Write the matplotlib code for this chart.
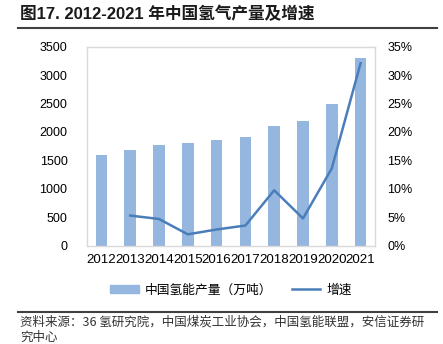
import matplotlib
matplotlib.use("Agg")
import matplotlib.pyplot as plt
from matplotlib.ticker import FuncFormatter
from matplotlib.lines import Line2D
from matplotlib.patches import Patch

plt.rcParams['font.family'] = ['Liberation Sans', 'Noto Sans CJK SC', 'DejaVu Sans']

years = ['2012', '2013', '2014', '2015', '2016', '2017', '2018', '2019', '2020', '2021']
production = [1600, 1685, 1765, 1800, 1855, 1920, 2100, 2200, 2500, 3300]
growth_years = ['2013', '2014', '2015', '2016', '2017', '2018', '2019', '2020', '2021']
growth = [5.3, 4.7, 2.0, 2.85, 3.55, 9.75, 4.8, 13.6, 32.1]

title = '图17. 2012-2021 年中国氢气产量及增速'
bar_label = '中国氢能产量（万吨）'
line_label = '增速'
source = '资料来源：36 氢研究院，中国煤炭工业协会，中国氢能联盟，安信证券研\n究中心'

bar_color = '#95B7DF'
line_color = '#4A7EBB'

fig = plt.figure(figsize=(4.43, 3.44), dpi=100)
ax = fig.add_axes([87/443, 1 - 245.7/344, (375 - 87)/443, (245.7 - 46.7)/344])

x = list(range(len(years)))
ax.bar(x, production, width=0.4, color=bar_color, zorder=2)
ax.set_xlim(-0.5, len(years) - 0.5)
ax.set_ylim(0, 3500)
ax.set_yticks(range(0, 3501, 500))
ax.set_xticks(x)
ax.set_xticklabels(years, fontsize=9.6)
ax.tick_params(axis='y', length=0, labelsize=9, colors='#000000', pad=14)
ax.tick_params(axis='x', length=0, pad=6)
for s in ax.spines.values():
    s.set_color('#D9D9D9')
    s.set_linewidth(1.0)

ax2 = ax.twinx()
gx = [years.index(y) for y in growth_years]
ax2.plot(gx, growth, color=line_color, linewidth=1.8, zorder=3)
ax2.set_ylim(0, 35)
ax2.set_yticks(range(0, 36, 5))
ax2.yaxis.set_major_formatter(FuncFormatter(lambda v, p: f'{int(v)}%'))
ax2.tick_params(axis='y', length=0, labelsize=9, pad=9)
for s in ax2.spines.values():
    s.set_visible(False)

# Title and rules
fig.text(20/443, 1 - 14/344, title, fontsize=12, fontweight='bold',
         family=['Liberation Sans', 'Noto Sans CJK SC'], va='center', ha='left', color='#1a1a1a')
fig.add_artist(Line2D([18/443, 437/443], [1 - 28/344, 1 - 28/344], color='#404040', linewidth=1.5))
fig.add_artist(Line2D([18/443, 437/443], [1 - 312/344, 1 - 312/344], color='#404040', linewidth=1.5))

# Legend
handles = [Patch(color=bar_color, label=bar_label),
           Line2D([0], [0], color=line_color, linewidth=1.8, label=line_label)]
fig.legend(handles=handles, loc='center', bbox_to_anchor=(231/443, 1 - 290/344), ncol=2,
           frameon=False, handlelength=2.2, handleheight=0.5,
           columnspacing=1.5, handletextpad=0.5,
           prop={'family': ['Noto Sans CJK SC', 'DejaVu Sans'], 'size': 9.2})

fig.text(20/443, 1 - 329.5/344, source, fontsize=9, style='italic',
         family=['Noto Sans CJK SC', 'DejaVu Sans'], va='center', ha='left', color='#333333',
         linespacing=1.25)

fig.savefig('out.png', dpi=100)
